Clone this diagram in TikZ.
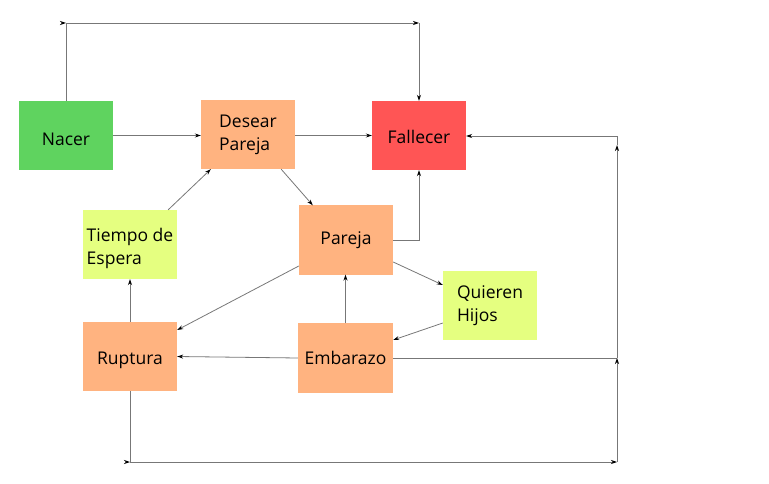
\documentclass[tikz,border=0pt]{standalone}
\usepackage{fontspec}
\setmainfont{Open Sans}
\usetikzlibrary{arrows.meta,calc}
\definecolor{cgreen}{HTML}{5FD35F}
\definecolor{corange}{HTML}{FFB380}
\definecolor{cred}{HTML}{FF5555}
\definecolor{cyellow}{HTML}{E5FF80}
\definecolor{cline}{HTML}{777777}
\newcommand{\lowertext}[2]{\raisebox{-#1}[\height][\depth]{#2}}
\tikzset{
  box/.style={minimum width=94pt, minimum height=69pt, inner sep=0pt, align=left,
    font=\fontsize{17.5}{23}\selectfont},
  conn/.style={draw=cline, line width=0.8pt},
  tip/.style={conn, -{Stealth[length=6pt,width=4pt,color=black]}},
}
\begin{document}
\begin{tikzpicture}[x=1pt,y=-1pt]
\useasboundingbox (0,0) rectangle (769,484);
\node[box, fill=cgreen] (nacer) at (66,135.5) {\lowertext{4pt}{Nacer}};
\node[box, fill=corange] (desear) at (248,134.5) {Desear\\Pareja};
\node[box, fill=cred] (fallecer) at (419,135.5) {\lowertext{1pt}{Fallecer}};
\node[box, fill=cyellow] (tiempo) at (130,244.5) {\lowertext{4pt}{\begin{tabular}{@{}l@{}}Tiempo de\\Espera\end{tabular}}};
\node[box, fill=corange] (pareja) at (346,240) {Pareja};
\node[box, fill=cyellow] (quieren) at (490,305.5) {Quieren\\Hijos};
\node[box, fill=corange] (ruptura) at (130,356.5) {\lowertext{4pt}{Ruptura}};
\node[box, fill=corange, minimum width=95pt, minimum height=70pt] (embarazo) at (345.5,358) {Embarazo};

\coordinate (c1) at (66,23);
\coordinate (c2) at (419,23);
\coordinate (c4) at (617,136);
\coordinate (c5) at (617,145);
\coordinate (c6) at (617,358);
\coordinate (c7) at (130,462);
\coordinate (c8) at (617,462);

% Nacer to Fallecer over the top
\draw[conn] (nacer.north) -- (c1);
\draw[tip] ([xshift=-2pt]c1) -- (c1);
\draw[tip] (c1) -- (c2);
\draw[tip] (c2) -- (fallecer.north);

\draw[tip] (nacer.east) -- (desear.west |- nacer.east);
\draw[tip] (desear.east |- fallecer.west) -- (fallecer.west);
\draw[tip] ([xshift=-14pt]desear.south east) -- ([xshift=14pt]pareja.north west);
\draw[tip] (pareja.east) -| (fallecer.south);
\draw[tip] ([yshift=-22pt]pareja.east) -- ([yshift=20.5pt]quieren.west);
\draw[tip] ([yshift=-17.5pt]quieren.west) -- ([yshift=18pt]embarazo.east);
\draw[tip] (embarazo.north) -- (embarazo.north |- pareja.south);
\draw[tip] (embarazo.west) -- (ruptura.east);
\draw[tip] ([yshift=-26pt]pareja.west) -- ([yshift=26.5pt]ruptura.east);
\draw[tip] (ruptura.north) -- (tiempo.south);
\draw[tip] ([xshift=-9pt]tiempo.north east) -- ([xshift=10pt]desear.south west);

% right-hand return path
\draw[conn] (embarazo.east) -- (c6);
\draw[conn] (ruptura.south) -- (c7);
\draw[tip] ([xshift=-2pt]c7) -- (c7);
\draw[tip] (c7) -- (c8);
\draw[tip] (c8) -- (c6);
\draw[tip] (c6) -- (c5);
\draw[conn] (c5) -- (c4);
\draw[tip] (c4) -- (fallecer.east |- c4);
\end{tikzpicture}
\end{document}
